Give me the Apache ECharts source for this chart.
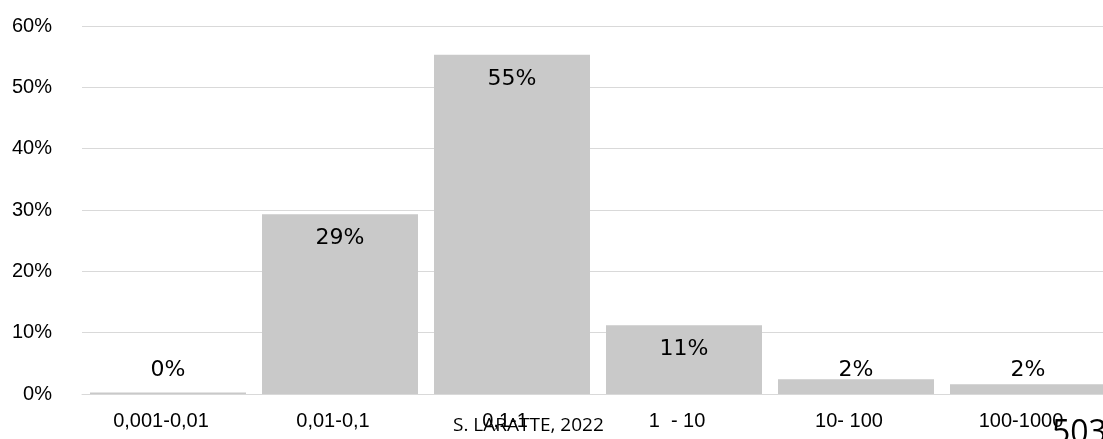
<!DOCTYPE html>
<html><head><meta charset="utf-8">
<script src="https://cdn.jsdelivr.net/npm/echarts@6/dist/echarts.min.js"></script>
<style>html,body{margin:0;padding:0;background:#fff;overflow:hidden}#c{width:1103px;height:439px}</style>
</head><body><div id="c"></div>
<script>
const categories = ['0,001-0,01', '0,01-0,1', '0,1-1', '1  - 10', '10- 100', '100-1000'];
const values = [0.25, 29.3, 55.3, 11.2, 2.4, 1.6];
const yTicks = [0, 10, 20, 30, 40, 50, 60];

const chart = echarts.init(document.getElementById('c'));
chart.setOption({
  animation: false,
  grid: { left: 82, width: 1032, top: 26, bottom: 45, containLabel: false, outerBoundsMode: 'none' },
  xAxis: {
    type: 'category', data: categories,
    axisLine: { show: true, lineStyle: { color: '#d9d9d9', width: 1 } },
    axisTick: { show: false },
    axisLabel: { color: '#000', fontFamily: 'Arial', fontSize: 20, margin: 17, padding: [0, 14, 0, 0] }
  },
  yAxis: {
    type: 'value', min: yTicks[0], max: yTicks[yTicks.length - 1], interval: 10,
    axisLine: { show: false }, axisTick: { show: false },
    splitLine: { lineStyle: { color: '#d9d9d9', width: 1 } },
    axisLabel: { color: '#000', fontFamily: 'Arial', fontSize: 20, margin: 30, formatter: v => v + '%' }
  },
  series: [{
    type: 'bar', barCategoryGap: '9.3%',
    itemStyle: { color: '#c9c9c9' },
    data: values.map(v => ({
      value: v,
      label: v > 5 ? { position: 'insideTop', distance: 13 } : { position: 'insideBottom', distance: 13 }
    })),
    label: {
      show: true, color: '#000', fontFamily: 'DejaVu Sans', fontSize: 22,
      formatter: p => Math.round(p.value) + '%'
    }
  }],
  graphic: [
    { type: 'text', left: 453, top: 416, style: { text: 'S. LARATTE, 2022', fill: '#000', font: '19px "Open Sans", "Noto Sans", sans-serif' } },
    { type: 'text', left: 1052, top: 418, style: { text: '503', fill: '#000', font: '32px "Open Sans", "Noto Sans", sans-serif' } }
  ]
});
</script></body></html>
